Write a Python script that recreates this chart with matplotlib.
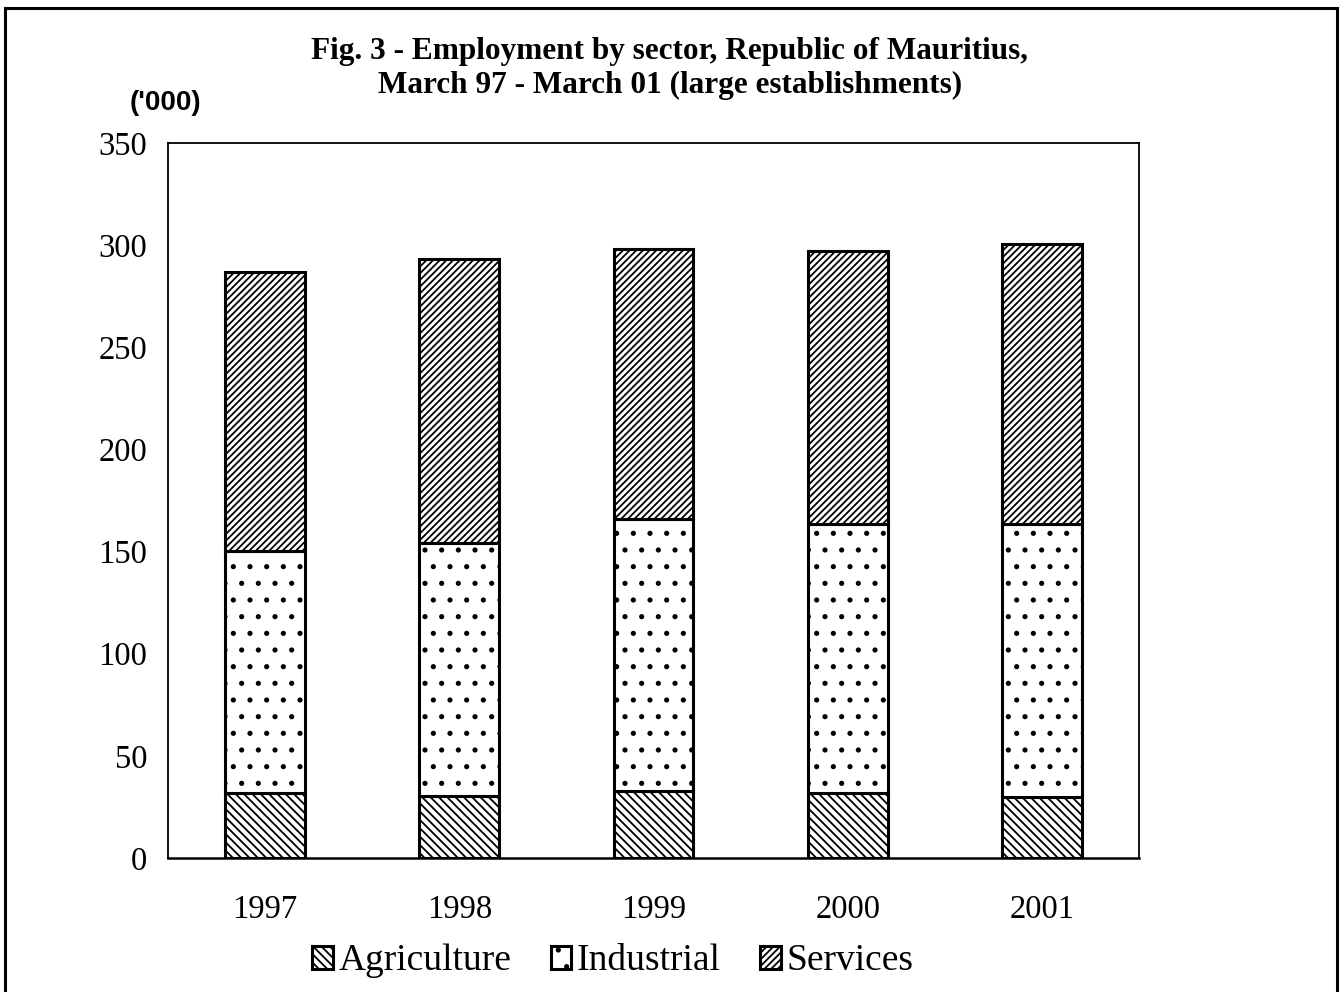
import numpy as np
import matplotlib
matplotlib.use('Agg')
import matplotlib.pyplot as plt
from matplotlib.patches import Rectangle

# employment ('000)
years = ['1997', '1998', '1999', '2000', '2001']
agriculture = [31.8, 30.2, 32.9, 31.8, 29.9]
industrial = [118.6, 123.8, 133.2, 131.8, 133.7]
services = [136.2, 139.2, 132.0, 133.3, 136.9]

plt.rcParams['hatch.linewidth'] = 1.3
serif = 'Liberation Serif'

fig = plt.figure(figsize=(13.44, 9.92), dpi=100)
ax = fig.add_axes([0.125, 0.135, 0.7225, 0.721])

x = np.arange(len(years))
w = 0.41
agr = np.array(agriculture)
ind = np.array(industrial)
srv = np.array(services)

ax.bar(x, agr, w, color='white', edgecolor='black', linewidth=2.2, hatch='\\\\\\\\', label='Agriculture')
ax.bar(x, ind, w, bottom=agr, color='white', edgecolor='black', linewidth=2.2, hatch='.', label='Industrial')
ax.bar(x, srv, w, bottom=agr + ind, color='white', edgecolor='black', linewidth=2.2, hatch='/////', label='Services')

ax.set_xlim(-0.5, len(years) - 0.5)
ax.set_ylim(0, 350)
ax.set_yticks(range(0, 351, 50))
ax.set_xticks(x)
ax.set_xticklabels(years)
ax.tick_params(length=0, labelsize=23.5)
ax.tick_params(axis='x', pad=26)
ax.tick_params(axis='y', pad=15)
for lbl in ax.get_xticklabels() + ax.get_yticklabels():
    lbl.set_fontfamily(serif)
for s in ax.spines.values():
    s.set_linewidth(1.3)
ax.spines['bottom'].set_linewidth(1.8)

fig.text(0.4985, 0.931, 'Fig. 3 - Employment by sector, Republic of Mauritius,\nMarch 97 - March 01 (large establishments)',
         ha='center', va='center', fontsize=22.5, fontweight='bold', family=serif, linespacing=1.25)
fig.text(0.123, 0.896, "('000)", ha='center', va='center', fontsize=20, fontweight='bold', family='Liberation Sans')

leg = fig.legend(loc='center', bbox_to_anchor=(0.456, 0.031), ncol=3, frameon=False,
                 prop={'family': serif, 'size': 27}, handlelength=0.55, handleheight=0.55,
                 handletextpad=0.15, columnspacing=1.05)

# outer frame
fig.patches.append(Rectangle((5 / 1344, -0.05), 1332 / 1344, 1.05 - 8 / 992, transform=fig.transFigure,
                             fill=False, edgecolor='black', linewidth=2.2))

fig.savefig('out.png', dpi=100)
